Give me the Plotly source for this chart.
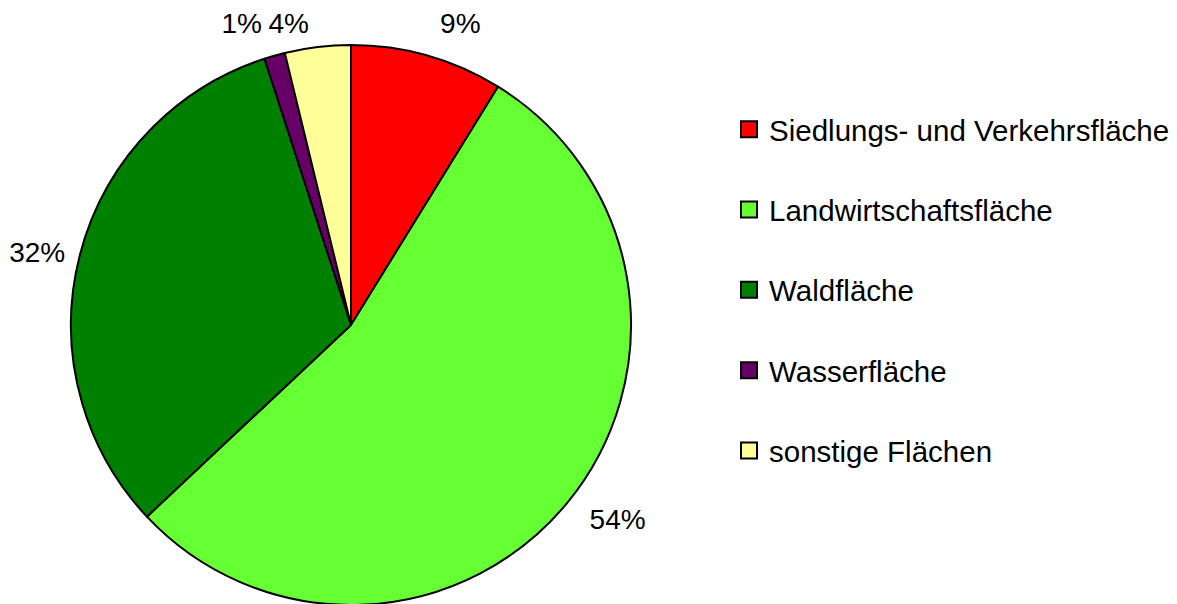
import plotly.graph_objects as go

categories = ["Siedlungs- und Verkehrsfläche", "Landwirtschaftsfläche", "Waldfläche",
              "Wasserfläche", "sonstige Flächen"]
values = [8.8, 54.2, 32.0, 1.2, 3.8]
colors = ["#FF0000", "#66FF33", "#008000", "#660066", "#FFFF99"]

W, H = 1177, 620
CX, CY = 343, 303          # pie centre in figure pixels (x from left, y from bottom)
R_PIE = 280


def dom(r):
    return dict(x=[(CX - r) / W, (CX + r) / W], y=[(CY - r) / H, (CY + r) / H])


fig = go.Figure()
fig.add_trace(go.Pie(
    labels=categories, values=values, sort=False, direction="clockwise", rotation=0,
    marker=dict(colors=colors, line=dict(color="black", width=2)),
    textposition="none", domain=dom(R_PIE),
    showlegend=False, hoverinfo="label+percent",
))

# percentage labels, placed by the pie layout itself (split so labels are not shifted)
label_sets = [
    (298, ["outside", "outside", "none", "outside", "none"]),
    (288, ["none", "none", "none", "none", "outside"]),
    (287, ["none", "none", "outside", "none", "none"]),
]
for r, tp in label_sets:
    fig.add_trace(go.Pie(
        labels=categories, values=values, sort=False, direction="clockwise", rotation=0,
        marker=dict(colors=["rgba(0,0,0,0)"] * len(values), line=dict(width=0)),
        textposition=tp, texttemplate="%{percent:.0%}",
        textfont=dict(family="Liberation Sans, Arial", size=28, color="black"),
        domain=dom(r), showlegend=False, hoverinfo="skip",
    ))

for i, (name, c) in enumerate(zip(categories, colors)):
    fig.add_trace(go.Scatter(
        x=[None], y=[None], mode="markers", name=name, legendgroup=f"g{i}",
        marker=dict(symbol="square", size=16, color=c, line=dict(color="black", width=2)),
    ))

fig.update_layout(
    width=W, height=H, margin=dict(l=0, r=0, t=0, b=0, autoexpand=False),
    paper_bgcolor="white", plot_bgcolor="white",
    xaxis=dict(visible=False), yaxis=dict(visible=False),
    font=dict(family="Liberation Sans, Arial", size=28, color="black"),
    legend=dict(x=0.6126, y=0.846, xanchor="left", yanchor="top",
                tracegroupgap=39, font=dict(size=29.5), itemwidth=30,
                bgcolor="rgba(0,0,0,0)"),
)
fig.write_html("out.html")
